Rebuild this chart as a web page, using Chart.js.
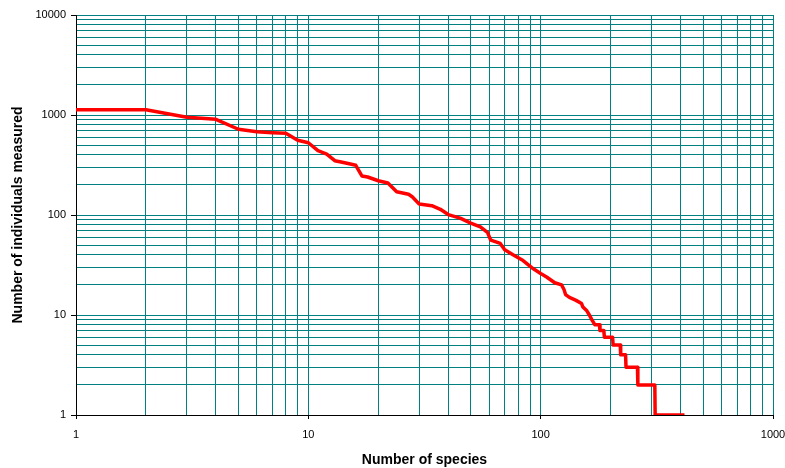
<!DOCTYPE html>
<html>
<head>
<meta charset="utf-8">
<script src="https://cdn.jsdelivr.net/npm/chart.js@4.4.1/dist/chart.umd.min.js"></script>
<style>
html,body{margin:0;padding:0;background:#fff;}
#wrap{width:785px;height:468px;}
</style>
</head>
<body>
<div id="wrap"><canvas id="c" width="785" height="468"></canvas></div>
<script>
// Rank (number of species) and count (individuals measured)
const ranks = [1,2,3,4,5,6,7,8,9,10,11,12,13,14,15,16,17,18,20,22,24,27,28,30,34,37,40,45,50,55,59,61,67,70,76,84,93,100,106,115,123,126,128,133,142,150,152,158,162,166,171,179,180,187,188,204,205,220,221,232,233,261,262,310,311,416];
const counts = [1130,1130,950,906,720,681,666,656,560,528,440,407,349,337,325,314,246,240,220,209,171,161,152,129,124,114,101,93,83,76,67,56,52,45,40,35,29,26,24,21,20,18,16,15,14,13,12,11,10,9,8,8,7,7,6,6,5,5,4,4,3,3,2,2,1,1];

const xTickValues = [1,2,3,4,5,6,7,8,9,10,20,30,40,50,60,70,80,90,100,200,300,400,500,600,700,800,900,1000];
const yTickValues = [1,2,3,4,5,6,7,8,9,10,20,30,40,50,60,70,80,90,100,200,300,400,500,600,700,800,900,1000,2000,3000,4000,5000,6000,7000,8000,9000,10000];
const xTickLabels = ['1','10','100','1000'];
const yTickLabels = ['1','10','100','1000','10000'];

const xTitle = 'Number of species';
const yTitle = 'Number of individuals measured';

const points = ranks.map((r, i) => ({x: r, y: counts[i]}));

const TEAL = '#008080';
const FONT = "'Liberation Sans', Arial, sans-serif";

function labelFor(list) {
  return function(value) {
    const s = String(value);
    return list.includes(s) ? s : '';
  };
}
function tickCol(list) {
  return ctx => (ctx.tick && list.includes(String(ctx.tick.value))) ? '#000' : 'rgba(0,0,0,0)';
}

new Chart(document.getElementById('c'), {
  type: 'scatter',
  data: {
    datasets: [{
      data: points,
      showLine: true,
      borderColor: '#ff0000',
      backgroundColor: '#ff0000',
      borderWidth: 3.5,
      pointRadius: 0,
      tension: 0,
      borderJoinStyle: 'round'
    }]
  },
  options: {
    responsive: false,
    animation: false,
    layout: {padding: {top: 15, right: 12, left: 0, bottom: 0}},
    plugins: {legend: {display: false}, tooltip: {enabled: false}},
    scales: {
      x: {
        type: 'logarithmic',
        min: 1, max: 1000,
        afterBuildTicks: s => { s.ticks = xTickValues.map(v => ({value: v})); },
        afterFit: s => { s.height = 53; s.paddingLeft = 0; s.paddingRight = 0; },
        border: {display: true, color: '#000', width: 1},
        grid: {color: TEAL, lineWidth: 1, drawTicks: true, tickLength: 4, tickColor: tickCol(xTickLabels), tickWidth: 1},
        ticks: {autoSkip: false, maxRotation: 0, color: '#000', padding: 9, font: {family: FONT, size: 11}, callback: labelFor(xTickLabels)},
        title: {display: true, text: xTitle, color: '#000', font: {family: FONT, size: 14, weight: 'bold', lineHeight: 1.1}, padding: {top: 0, bottom: 0}}
      },
      y: {
        type: 'logarithmic',
        min: 1, max: 10000,
        afterBuildTicks: s => { s.ticks = yTickValues.map(v => ({value: v})); },
        afterFit: s => { s.width = 76; s.paddingTop = 0; s.paddingBottom = 0; },
        border: {display: true, color: '#000', width: 1},
        grid: {color: TEAL, lineWidth: 1, drawTicks: true, tickLength: 5, tickColor: tickCol(yTickLabels), tickWidth: 1},
        ticks: {autoSkip: false, color: '#000', padding: 5, font: {family: FONT, size: 11}, callback: labelFor(yTickLabels)},
        title: {display: true, text: yTitle, color: '#000', font: {family: FONT, size: 14, weight: 'bold'}, padding: {top: 10, bottom: 0}}
      }
    }
  }
});
</script>
</body>
</html>
